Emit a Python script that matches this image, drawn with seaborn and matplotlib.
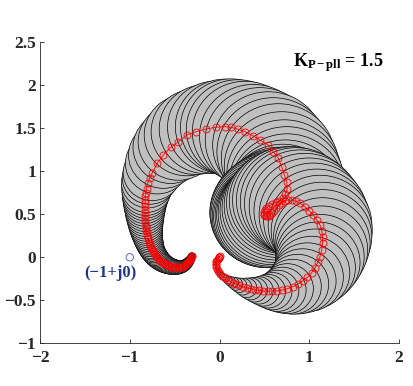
import matplotlib
matplotlib.use("Agg")
import matplotlib.pyplot as plt
from matplotlib.patches import Circle
import seaborn as sns
import pandas as pd

# ---- data ----
# branch A: from the high-frequency end near (-0.31, 0) to the spiral
a_x = [-0.310, -0.311, -0.314, -0.318, -0.324, -0.331, -0.340, -0.350, -0.361, -0.373,
       -0.386, -0.400, -0.415, -0.431, -0.447, -0.463, -0.480, -0.497, -0.514, -0.531,
       -0.548, -0.565, -0.582, -0.598, -0.614, -0.629, -0.644, -0.658, -0.672, -0.686,
       -0.699, -0.711, -0.723, -0.734, -0.744, -0.754, -0.763, -0.771, -0.779, -0.786,
       -0.793, -0.799, -0.805, -0.810, -0.815, -0.819, -0.823, -0.826, -0.828, -0.830,
       -0.831, -0.831, -0.831, -0.830, -0.828, -0.825, -0.820, -0.812, -0.800, -0.776,
       -0.749, -0.693, -0.626, -0.544, -0.459, -0.365, -0.265, -0.154, -0.042, 0.061,
       0.128, 0.205, 0.284, 0.377, 0.451, 0.544, 0.599, 0.655, 0.693, 0.722,
       0.749, 0.755, 0.735, 0.705, 0.665, 0.625, 0.585, 0.550, 0.522, 0.502,
       0.492, 0.492, 0.500, 0.514]
a_y = [0.019, 0.010, 0.000, -0.012, -0.024, -0.036, -0.048, -0.060, -0.072, -0.083,
       -0.093, -0.101, -0.107, -0.112, -0.115, -0.116, -0.116, -0.114, -0.111, -0.107,
       -0.102, -0.096, -0.089, -0.081, -0.072, -0.062, -0.051, -0.039, -0.026, -0.012,
       0.003, 0.019, 0.036, 0.054, 0.073, 0.093, 0.114, 0.136, 0.159, 0.183,
       0.208, 0.234, 0.261, 0.289, 0.318, 0.348, 0.380, 0.413, 0.447, 0.482,
       0.518, 0.555, 0.593, 0.632, 0.672, 0.712, 0.752, 0.800, 0.867, 0.925,
       0.984, 1.093, 1.190, 1.279, 1.344, 1.422, 1.460, 1.491, 1.512, 1.519,
       1.512, 1.490, 1.460, 1.410, 1.363, 1.305, 1.228, 1.151, 1.053, 0.957,
       0.879, 0.800, 0.735, 0.690, 0.660, 0.638, 0.617, 0.597, 0.575, 0.551,
       0.527, 0.505, 0.488, 0.477]
a_r = [0.035, 0.038, 0.041, 0.044, 0.047, 0.050, 0.053, 0.056, 0.059, 0.062,
       0.065, 0.068, 0.071, 0.074, 0.077, 0.080, 0.083, 0.086, 0.089, 0.092,
       0.095, 0.098, 0.101, 0.104, 0.107, 0.110, 0.113, 0.116, 0.119, 0.122,
       0.125, 0.128, 0.131, 0.134, 0.137, 0.140, 0.144, 0.148, 0.152, 0.156,
       0.160, 0.165, 0.170, 0.175, 0.180, 0.186, 0.192, 0.198, 0.204, 0.211,
       0.218, 0.225, 0.232, 0.240, 0.248, 0.257, 0.266, 0.278, 0.293, 0.308,
       0.325, 0.356, 0.388, 0.420, 0.448, 0.474, 0.497, 0.518, 0.537, 0.553,
       0.563, 0.575, 0.587, 0.600, 0.610, 0.620, 0.628, 0.635, 0.640, 0.642,
       0.640, 0.636, 0.630, 0.625, 0.620, 0.616, 0.612, 0.608, 0.605, 0.602,
       0.600, 0.598, 0.596, 0.595]

# branch B: from the spiral out to the origin
b_x = [0.530, 0.548, 0.566, 0.585, 0.608, 0.633, 0.660, 0.690, 0.725, 0.765,
       0.810, 0.855, 0.900, 0.950, 0.997, 1.045, 1.083, 1.120, 1.139, 1.150,
       1.148, 1.139, 1.120, 1.095, 1.065, 1.027, 0.980, 0.925, 0.870, 0.815,
       0.755, 0.700, 0.644, 0.590, 0.540, 0.490, 0.440, 0.392, 0.346, 0.302,
       0.260, 0.220, 0.183, 0.150, 0.120, 0.093, 0.068, 0.045, 0.025, 0.008,
       -0.007, -0.019, -0.029, -0.036, -0.040, -0.041, -0.039, -0.034, -0.027, -0.019,
       -0.011, -0.005, -0.001, 0.000]
b_y = [0.475, 0.481, 0.495, 0.515, 0.542, 0.573, 0.605, 0.635, 0.657, 0.667,
       0.664, 0.652, 0.627, 0.590, 0.542, 0.492, 0.434, 0.376, 0.310, 0.240,
       0.163, 0.085, 0.007, -0.060, -0.120, -0.180, -0.232, -0.275, -0.312, -0.342,
       -0.365, -0.380, -0.390, -0.394, -0.394, -0.391, -0.385, -0.377, -0.367, -0.355,
       -0.341, -0.326, -0.310, -0.294, -0.278, -0.262, -0.246, -0.229, -0.212, -0.194,
       -0.175, -0.155, -0.135, -0.115, -0.095, -0.076, -0.058, -0.042, -0.027, -0.014,
       -0.004, 0.003, 0.008, 0.010]
b_r = [0.596, 0.597, 0.598, 0.600, 0.602, 0.605, 0.608, 0.612, 0.616, 0.620,
       0.622, 0.623, 0.622, 0.619, 0.613, 0.604, 0.592, 0.578, 0.563, 0.547,
       0.530, 0.512, 0.492, 0.471, 0.449, 0.425, 0.400, 0.374, 0.347, 0.319,
       0.291, 0.265, 0.240, 0.217, 0.196, 0.177, 0.159, 0.143, 0.128, 0.114,
       0.098, 0.085, 0.074, 0.064, 0.055, 0.047, 0.040, 0.034, 0.029, 0.024,
       0.020, 0.017, 0.014, 0.012, 0.010, 0.009, 0.008, 0.007, 0.006, 0.005,
       0.004, 0.004, 0.003, 0.003]

crit_x = [-1.0]
crit_y = [0.0]
crit_label = "(\u22121+j0)"
gain_label = r"$\mathbf{K}_{\mathbf{P-pll}}$ = 1.5"
x_ticks = [-2, -1, 0, 1, 2]
y_ticks = [-1, -0.5, 0, 0.5, 1, 1.5, 2, 2.5]
y_tick_labels = ["\u22121", "\u22120.5", "0", "0.5", "1", "1.5", "2", "2.5"]
x_tick_labels = ["\u22122", "\u22121", "0", "1", "2"]

# ---- style ----
sns.set_theme(style="ticks")
plt.rcParams["font.family"] = ["Liberation Serif", "DejaVu Serif"]
plt.rcParams["font.weight"] = "bold"
plt.rcParams["mathtext.fontset"] = "custom"
plt.rcParams["mathtext.rm"] = "Liberation Serif:bold"
plt.rcParams["mathtext.bf"] = "Liberation Serif:bold"
plt.rcParams["mathtext.it"] = "Liberation Serif:italic:bold"

fig = plt.figure(figsize=(4.13, 3.86), dpi=100)
ax = fig.add_axes([0.0969, 0.1106, 0.8692, 0.7798])

# uncertainty discs, drawn in sweep order
for xs, ys, rs in ((a_x, a_y, a_r), (b_x, b_y, b_r)):
    for cx, cy, cr in zip(xs, ys, rs):
        ax.add_patch(Circle((cx, cy), cr, facecolor="#c0c0c0",
                            edgecolor="black", linewidth=0.5, zorder=1))

df_a = pd.DataFrame({"x": a_x, "y": a_y})
df_b = pd.DataFrame({"x": b_x, "y": b_y})
for df in (df_a, df_b):
    sns.lineplot(data=df, x="x", y="y", sort=False, estimator=None, ax=ax,
                 color="red", linewidth=0.6, marker="o", markersize=5.0,
                 markerfacecolor="none", markeredgecolor="red",
                 markeredgewidth=0.6, zorder=3)

sns.scatterplot(x=crit_x, y=crit_y, ax=ax, marker="o", s=28,
                facecolor="none", edgecolor="#3552b5", linewidth=0.6, zorder=4)
ax.text(-1.22, -0.18, crit_label, color="#1f3590", fontsize=12,
        fontweight="bold", ha="center", va="center")
ax.text(0.816, 2.216, gain_label, color="black", fontsize=13,
        fontweight="bold", ha="left", va="baseline")

ax.set_xlim(-2, 2)
ax.set_ylim(-1, 2.5)
ax.set_xticks(x_ticks)
ax.set_xticklabels(x_tick_labels)
ax.set_yticks(y_ticks)
ax.set_yticklabels(y_tick_labels)
ax.set_xlabel("")
ax.set_ylabel("")
ax.tick_params(direction="in", length=3, width=0.6, labelsize=12.5)
ax.tick_params(axis="x", pad=5)
ax.tick_params(axis="y", pad=3)
for lab in ax.get_xticklabels() + ax.get_yticklabels():
    lab.set_fontweight("bold")
ax.spines["top"].set_visible(False)
ax.spines["right"].set_visible(False)
ax.spines["left"].set_linewidth(0.6)
ax.spines["bottom"].set_linewidth(0.6)

fig.savefig("out.png", dpi=100)
